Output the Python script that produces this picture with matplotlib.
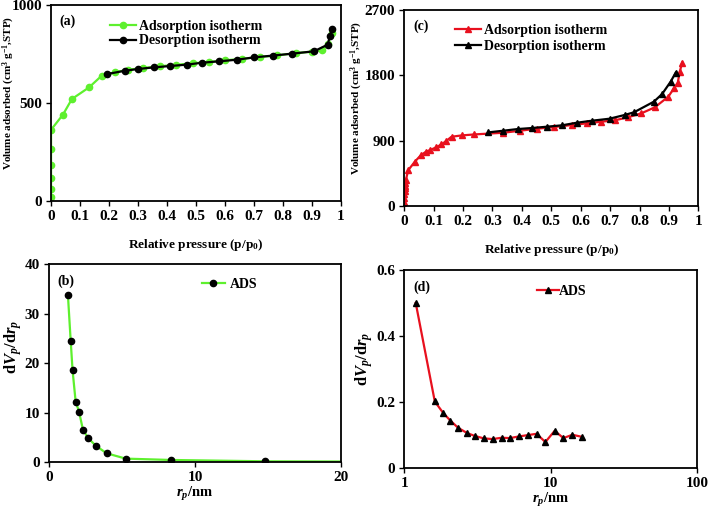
import matplotlib
matplotlib.use('Agg')
import matplotlib.pyplot as plt

plt.rcParams['font.family'] = 'Liberation Serif'
plt.rcParams['font.weight'] = 'bold'
plt.rcParams['mathtext.fontset'] = 'custom'
plt.rcParams['mathtext.rm'] = 'Liberation Serif:bold'
plt.rcParams['mathtext.it'] = 'Liberation Serif:italic:bold'
plt.rcParams['mathtext.bf'] = 'Liberation Serif:bold'

# (a) isotherm, sample 1
a_ads_p = [0.0, 0.0, 0.0, 0.0, 0.0, 0.0, 0.041, 0.072, 0.131, 0.175, 0.22, 0.265,
           0.318, 0.375, 0.43, 0.49, 0.545, 0.6, 0.66, 0.72, 0.78, 0.845, 0.9, 0.933,
           0.955, 0.968]
a_ads_v = [17, 60, 116, 182, 264, 362, 439, 519, 578, 638, 655, 668,
           677, 686, 693, 701, 708, 716, 724, 733, 741, 753, 760, 767,
           800, 855]
a_des_p = [0.193, 0.255, 0.301, 0.355, 0.41, 0.468, 0.522, 0.58, 0.64, 0.70,
           0.764, 0.831, 0.907, 0.954, 0.962, 0.969]
a_des_v = [646, 663, 672, 680, 687, 694, 704, 711, 719, 731,
           740, 750, 762, 796, 842, 876]

# (c) isotherm, sample 2
c_ads_p = [0.0, 0.0, 0.001, 0.001, 0.002, 0.002, 0.003, 0.004, 0.006, 0.014,
           0.036, 0.057, 0.074, 0.088, 0.108, 0.127, 0.144, 0.161, 0.195, 0.239,
           0.337, 0.394, 0.45, 0.508, 0.57, 0.62, 0.67, 0.716, 0.76, 0.806,
           0.852, 0.898, 0.917, 0.93, 0.937, 0.945]
c_ads_v = [0, 60, 110, 160, 200, 240, 280, 320, 360, 492,
           607, 699, 745, 768, 805, 846, 897, 952, 970, 984,
           1007, 1035, 1062, 1085, 1113, 1136, 1159, 1178, 1219, 1274,
           1357, 1504, 1619, 1697, 1849, 1973]
c_des_p = [0.286, 0.337, 0.386, 0.434, 0.485, 0.536, 0.587, 0.639, 0.698, 0.749,
           0.781, 0.849, 0.877, 0.906, 0.923]
c_des_v = [1012, 1035, 1058, 1072, 1090, 1109, 1145, 1173, 1200, 1251,
           1288, 1435, 1541, 1711, 1835]

# (b) pore size distribution, sample 1
b_r = [1.30, 1.49, 1.62, 1.83, 2.06, 2.33, 2.70, 3.20, 3.95, 5.26, 8.34, 14.8, 25.0]
b_dv = [33.8, 24.5, 18.5, 12.2, 10.2, 6.5, 4.8, 3.3, 1.75, 0.67, 0.4, 0.13, 0.05]

# (d) pore size distribution, sample 2
d_r = [1.20, 1.62, 1.85, 2.07, 2.34, 2.70, 3.06, 3.51, 4.02, 4.63, 5.28, 6.09,
       6.98, 8.03, 9.22, 10.67, 12.24, 14.1, 16.3]
d_dv = [0.501, 0.202, 0.167, 0.144, 0.122, 0.106, 0.097, 0.090, 0.088, 0.092,
        0.091, 0.096, 0.100, 0.104, 0.079, 0.113, 0.091, 0.101, 0.095]

pp_ticks = [i / 10 for i in range(11)]
pp_labels = ['0', '0.1', '0.2', '0.3', '0.4', '0.5', '0.6', '0.7', '0.8', '0.9', '1']

green = '#5ef02e'
red = '#e8101e'
tick_fs = 11
lab_fs = 9.5
leg_fs = 10
iso_ylabel = 'Volume adsorbed (cm$^3$ g$^{-1}$,STP)'

fig = plt.figure(figsize=(7.09, 5.11), dpi=100)
ax_a = fig.add_axes([0.072, 0.607, 0.409, 0.384])
ax_c = fig.add_axes([0.570, 0.597, 0.415, 0.384])
ax_b = fig.add_axes([0.069, 0.096, 0.412, 0.387])
ax_d = fig.add_axes([0.570, 0.084, 0.413, 0.387])


def style(ax):
    for s in ax.spines.values():
        s.set_linewidth(1.3)
    ax.tick_params(direction='out', length=3.5, width=1.0, labelsize=tick_fs, pad=3)
    for lab in ax.get_xticklabels() + ax.get_yticklabels():
        lab.set_fontweight('bold')


# (a)
ax_a.plot(a_ads_p, a_ads_v, '-o', color=green, ms=4.5, lw=1.6,
          label='Adsorption isotherm')
ax_a.plot(a_des_p, a_des_v, '-o', color='black', ms=4.5, lw=1.6,
          label='Desorption isotherm')
ax_a.set_xlim(0, 1)
ax_a.set_ylim(0, 1000)
ax_a.set_xticks(pp_ticks)
ax_a.set_xticklabels(pp_labels)
ax_a.set_yticks([0, 500, 1000])
ax_a.set_xlabel('Relative pressure (p/p$_0$)', fontsize=lab_fs, fontweight='bold', labelpad=10)
ax_a.set_ylabel(iso_ylabel, fontsize=8, fontweight='bold')
ax_a.yaxis.set_label_coords(-0.117, 0.55)
ax_a.text(0.03, 0.95, '(a)', transform=ax_a.transAxes, fontsize=leg_fs, fontweight='bold', va='top')
ax_a.legend(loc='upper left', bbox_to_anchor=(0.16, 0.985), frameon=False, fontsize=leg_fs,
            handlelength=1.9, handletextpad=0.2, labelspacing=0.1)
style(ax_a)

# (c)
ax_c.plot(c_ads_p, c_ads_v, '-^', color=red, ms=4, lw=1.6, label='Adsorption isotherm')
ax_c.plot(c_des_p, c_des_v, '-^', color='black', ms=4, lw=1.6, label='Desorption isotherm')
ax_c.set_xlim(0, 1)
ax_c.set_ylim(0, 2700)
ax_c.set_xticks(pp_ticks)
ax_c.set_xticklabels(pp_labels)
ax_c.set_yticks([0, 900, 1800, 2700])
ax_c.set_xlabel('Relative pressure (p/p$_0$)', fontsize=lab_fs, fontweight='bold', labelpad=10)
ax_c.set_ylabel(iso_ylabel, fontsize=8, fontweight='bold')
ax_c.yaxis.set_label_coords(-0.133, 0.55)
ax_c.text(0.03, 0.95, '(c)', transform=ax_c.transAxes, fontsize=leg_fs, fontweight='bold', va='top')
ax_c.legend(loc='upper left', bbox_to_anchor=(0.13, 0.99), frameon=False, fontsize=leg_fs,
            handlelength=1.9, handletextpad=0.2, labelspacing=0.2)
style(ax_c)

# (b)
ax_b.plot(b_r, b_dv, '-o', color=green, mfc='black', mec='black', ms=4.5, lw=1.6, label='ADS')
ax_b.set_xlim(0, 20)
ax_b.set_ylim(0, 40)
ax_b.set_xticks([0, 10, 20])
ax_b.set_yticks([0, 10, 20, 30, 40])
ax_b.set_xlabel('$r_p$/nm', fontsize=10.5, fontweight='bold', labelpad=1)
ax_b.set_ylabel('d$V_p$/d$r_p$', fontsize=12, fontweight='bold')
ax_b.yaxis.set_label_coords(-0.085, 0.58)
ax_b.text(0.03, 0.95, '(b)', transform=ax_b.transAxes, fontsize=leg_fs, fontweight='bold', va='top')
ax_b.legend(loc='upper left', bbox_to_anchor=(0.48, 0.995), frameon=False, fontsize=leg_fs,
            handlelength=1.7, handletextpad=0.3)
style(ax_b)

# (d)
ax_d.plot(d_r, d_dv, '-^', color=red, mfc='black', mec='black', ms=4.5, lw=1.6, label='ADS')
ax_d.set_xscale('log')
ax_d.set_xlim(1, 100)
ax_d.set_ylim(0, 0.6)
ax_d.set_xticks([1, 10, 100])
ax_d.set_xticklabels(['1', '10', '100'])
ax_d.minorticks_off()
ax_d.set_yticks([0, 0.2, 0.4, 0.6])
ax_d.set_yticklabels(['0', '0.2', '0.4', '0.6'])
ax_d.set_xlabel('$r_p$/nm', fontsize=10.5, fontweight='bold', labelpad=1)
ax_d.set_ylabel('d$V_p$/d$r_p$', fontsize=12, fontweight='bold')
ax_d.yaxis.set_label_coords(-0.1, 0.55)
ax_d.text(0.03, 0.95, '(d)', transform=ax_d.transAxes, fontsize=leg_fs, fontweight='bold', va='top')
ax_d.legend(loc='upper left', bbox_to_anchor=(0.41, 0.99), frameon=False, fontsize=leg_fs,
            handlelength=1.6, handletextpad=0.0)
style(ax_d)

fig.savefig('out.png', dpi=100)
